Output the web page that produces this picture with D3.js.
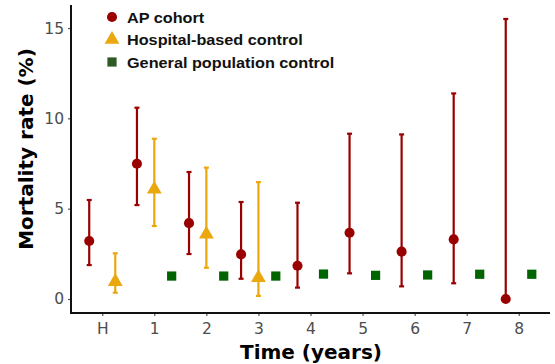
<!DOCTYPE html>
<html><head><meta charset="utf-8">
<script src="https://cdn.jsdelivr.net/npm/d3@7"></script>
<style>body{margin:0;background:#fff}</style>
</head><body>
<svg id="c" width="555" height="364"></svg>
<script>
const categories = ["H","1","2","3","4","5","6","7","8"];
const groups = ["AP cohort","Hospital-based control","General population control"];
// AP cohort
const apMean = [3.21,7.49,4.20,2.47,1.84,3.67,2.62,3.30,0];
const apLow  = [1.88,5.20,2.49,1.12,0.63,1.42,0.70,0.87,0];
const apHigh = [5.48,10.59,7.03,5.37,5.33,9.15,9.11,11.38,15.5];
// Hospital-based control (H..3)
const hospCats = ["H","1","2","3"];
const hospMean = [0.96,6.07,3.58,1.18];
const hospLow  = [0.35,4.04,1.73,0.17];
const hospHigh = [2.53,8.87,7.27,6.47];
// General population control (1..8)
const genCats = ["1","2","3","4","5","6","7","8"];
const genMean = [1.27,1.27,1.27,1.38,1.31,1.33,1.37,1.37];
const yTicks = [0,5,10,15];

const colors = {ap:"#990000", hosp:"#EBA70E", gen:"#006400"};
const svg = d3.select("#c");
const mLeft=71, mRight=550, mTop=5, mBottom=313;
const x = d3.scalePoint().domain(categories).range([mLeft,mRight]).padding(0.6);
const step = x.step();
const y = d3.scaleLinear().domain([-0.775,16.275]).range([mBottom,mTop]);

// build records with dodge
const recs=[];
categories.forEach((c)=>{
  const present=["ap"];
  if (hospCats.includes(c)) present.push("hosp");
  if (genCats.includes(c)) present.push("gen");
  const n=present.length;
  present.forEach((g,k)=>{
    const off = (k-(n-1)/2)*(step/n);
    let m,lo,hi;
    if(g==="ap"){const i=categories.indexOf(c);m=apMean[i];lo=apLow[i];hi=apHigh[i];}
    if(g==="hosp"){const i=hospCats.indexOf(c);m=hospMean[i];lo=hospLow[i];hi=hospHigh[i];}
    if(g==="gen"){const i=genCats.indexOf(c);m=genMean[i];}
    recs.push({c,g,cx:x(c)+off,m,lo,hi});
  });
});

// axes
const gy = svg.append("g").attr("transform",`translate(${mLeft},0)`)
  .call(d3.axisLeft(y).tickValues(yTicks).tickSize(3).tickPadding(4));
const gx = svg.append("g").attr("transform",`translate(0,${mBottom})`)
  .call(d3.axisBottom(x).tickSize(3).tickPadding(7));
[gx,gy].forEach(g=>{
  g.select(".domain").remove();
  g.selectAll(".tick line").attr("stroke","#555").attr("stroke-width",1.2);
  g.selectAll(".tick text").attr("fill","#4d4d4d").style("font-family","DejaVu Sans").style("font-size","15.5px");
});
svg.append("line").attr("x1",mLeft).attr("x2",mLeft).attr("y1",mTop).attr("y2",mBottom+1).attr("stroke","#111").attr("stroke-width",2);
svg.append("line").attr("x1",mLeft-1).attr("x2",mRight).attr("y1",mBottom).attr("y2",mBottom).attr("stroke","#111").attr("stroke-width",2);

// error bars
const eb = recs.filter(d=>d.lo!==undefined);
eb.forEach(d=>{
  const col=colors[d.g];
  const g=svg.append("g").attr("stroke",col).attr("stroke-width",2.2);
  g.append("line").attr("x1",d.cx).attr("x2",d.cx).attr("y1",y(d.lo)).attr("y2",y(d.hi));
  g.append("line").attr("x1",d.cx-2.5).attr("x2",d.cx+2.5).attr("y1",y(d.lo)).attr("y2",y(d.lo));
  g.append("line").attr("x1",d.cx-2.5).attr("x2",d.cx+2.5).attr("y1",y(d.hi)).attr("y2",y(d.hi));
});
// points
const sym = {ap:d3.symbol(d3.symbolCircle,80), hosp:d3.symbol(d3.symbolTriangle,95), gen:d3.symbol(d3.symbolSquare,85)};
recs.forEach(d=>{
  svg.append("path").attr("d",sym[d.g]()).attr("fill",colors[d.g])
    .attr("transform",`translate(${d.cx},${y(d.m)})`);
});

// legend
const legKeys=["ap","hosp","gen"];
const legCol={ap:"#990000",hosp:"#EBA70E",gen:"#2f5a25"};
legKeys.forEach((k,i)=>{
  const ly=17+i*22.5;
  svg.append("path").attr("d",sym[k]()).attr("fill",legCol[k]).attr("transform",`translate(112,${ly})`);
  svg.append("text").attr("transform",`translate(127,${ly+5.5}) scale(1.12,1)`).text(groups[i])
    .style("font-family","Liberation Sans, Arial, sans-serif").style("font-weight","bold").style("font-size","14.5px").attr("fill","#111");
});

// titles
svg.append("text").attr("x",311).attr("y",359).attr("text-anchor","middle").text("Time (years)")
  .style("font-family","DejaVu Sans").style("font-weight","bold").style("font-size","20px").attr("fill","#000");
svg.append("text").attr("transform","translate(33,149) rotate(-90)").attr("text-anchor","middle").text("Mortality rate (%)")
  .style("font-family","DejaVu Sans").style("font-weight","bold").style("font-size","20px").attr("fill","#000");
</script>
</body></html>
